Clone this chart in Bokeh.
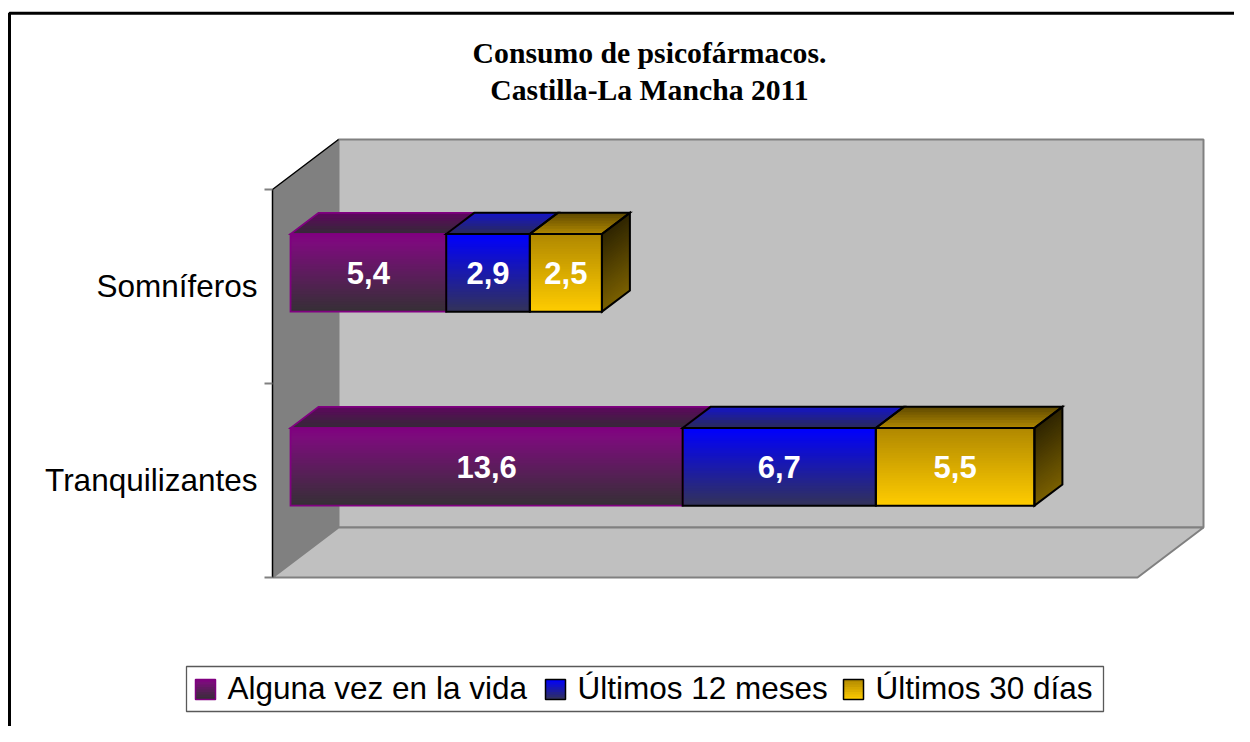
import numpy as np
from bokeh.plotting import figure
from bokeh.models import Range1d
from bokeh.core.properties import value
from bokeh.embed import file_html
from bokeh.resources import INLINE

# ---------------- data ----------------
title_lines = ["Consumo de psicofármacos.", "Castilla-La Mancha 2011"]
categories = ["Somníferos", "Tranquilizantes"]
series_names = ["Alguna vez en la vida", "Últimos 12 meses", "Últimos 30 días"]
alguna_vez = [5.4, 13.6]
ultimos_12_meses = [2.9, 6.7]
ultimos_30_dias = [2.5, 5.5]
axis_max = 30

# ---------------- styles ----------------
front_stops = [
    [(0, "#800080"), (0.12, "#7c0c7c"), (1, "#353035")],
    [(0, "#0000FF"), (1, "#333358")],
    [(0, "#B08800"), (1, "#FFCC00")],
]
top_stops = [
    [(0, "#5e065e"), (1, "#342a36")],
    [(0, "#1414c8"), (1, "#2a2a58")],
    [(0, "#5e4800"), (1, "#b08800")],
]
side_stops = [
    [(0, "#2a1030"), (1, "#5a2060")],
    [(0, "#0a0a40"), (1, "#202070")],
    [(0, "#2e2400"), (1, "#7a6000")],
]
edge_colors = ["#800080", "#000000", "#000000"]
edge_widths = [1.8, 2, 2]

W, H = 1234, 726
FX0, FX1 = 272, 1137      # front plane (px)
FY0, FY1 = 189, 577
SX = (FX1 - FX0) / axis_max
DXP, DYP = 66, -50        # depth offset of back wall (px)
DXV = DXP / SX
BAND = (FY1 - FY0) / len(categories)
HH = 0.4 * BAND / 2
D0, D1 = 0.273, 0.697     # bar depth fraction


def xv(px):
    return (px - FX0) / SX


def hex2rgb(h):
    h = h.lstrip("#")
    return np.array([int(h[i:i + 2], 16) for i in (0, 2, 4)], dtype=float)


def color_at(stops, t):
    for j in range(len(stops) - 1):
        p0, c0 = stops[j]
        p1, c1 = stops[j + 1]
        if t <= p1 or j == len(stops) - 2:
            f = 0.0 if p1 == p0 else min(max((t - p0) / (p1 - p0), 0.0), 1.0)
            c = hex2rgb(c0) * (1 - f) + hex2rgb(c1) * f
            return "#%02x%02x%02x" % tuple(int(round(v)) for v in c)
    return stops[-1][1]


def P(v, d, y):
    return (v + d * DXV, y + d * DYP)


fill_xs, fill_ys, fill_cols = [], [], []


def grad_quad(p0, p1, p2, p3, stops):
    # p0 top-left, p1 top-right, p2 bottom-right, p3 bottom-left; gradient p0->p3
    hpx = max(abs(p3[1] - p0[1]), abs(p2[1] - p1[1]))
    n = max(4, int(hpx / 2.5))
    for k in range(n):
        t0 = k / n
        t1 = min(1.0, (k + 2) / n)
        tm = (k + 0.5) / n
        L0 = (p0[0] + (p3[0] - p0[0]) * t0, p0[1] + (p3[1] - p0[1]) * t0)
        R0 = (p1[0] + (p2[0] - p1[0]) * t0, p1[1] + (p2[1] - p1[1]) * t0)
        L1 = (p0[0] + (p3[0] - p0[0]) * t1, p0[1] + (p3[1] - p0[1]) * t1)
        R1 = (p1[0] + (p2[0] - p1[0]) * t1, p1[1] + (p2[1] - p1[1]) * t1)
        fill_xs.append([L0[0], R0[0], R1[0], L1[0]])
        fill_ys.append([L0[1], R0[1], R1[1], L1[1]])
        fill_cols.append(color_at(stops, tm))


p = figure(width=W, height=H, output_backend="svg", toolbar_location=None,
           x_range=Range1d(xv(0), xv(W)), y_range=Range1d(H, 0),
           x_axis_location=None, y_axis_location=None, min_border=0,
           background_fill_color="white", border_fill_color="white")
p.grid.visible = False
p.outline_line_color = None

# ---------------- walls ----------------
back = [P(0, 1, FY0), P(axis_max, 1, FY0), P(axis_max, 1, FY1), P(0, 1, FY1)]
p.patch([q[0] for q in back], [q[1] for q in back], fill_color="#C0C0C0",
        line_color="#808080", line_width=2)
side = [P(0, 0, FY0), P(0, 1, FY0), P(0, 1, FY1), P(0, 0, FY1)]
p.patch([q[0] for q in side], [q[1] for q in side], fill_color="#808080",
        line_color=None)
floor = [P(0, 0, FY1), P(axis_max, 0, FY1), P(axis_max, 1, FY1), P(0, 1, FY1)]
p.patch([q[0] for q in floor], [q[1] for q in floor], fill_color="#C0C0C0",
        line_color="#808080", line_width=2)
# axis line (left edge + top diagonal)
p.line([P(0, 1, FY0)[0], P(0, 0, FY0)[0], P(0, 0, FY1)[0]],
       [P(0, 1, FY0)[1], P(0, 0, FY0)[1], P(0, 0, FY1)[1]],
       line_color="#000000", line_width=1.5)
# category ticks
for k in range(len(categories) + 1):
    yt = FY0 + k * BAND
    p.line([xv(FX0 - 8), 0], [yt, yt], line_color="#808080", line_width=2)

# ---------------- bars ----------------
series_vals = [alguna_vez, ultimos_12_meses, ultimos_30_dias]
out_xs, out_ys, out_cols, out_w = [], [], [], []
lab_x, lab_y, lab_t = [], [], []
for i, cat in enumerate(categories):
    yc = FY0 + (i + 0.5) * BAND
    top, bot = yc - HH, yc + HH
    start = 0.0
    for s, vals in enumerate(series_vals):
        a, b = start, start + vals[i]
        t_face = [P(a, D1, top), P(b, D1, top), P(b, D0, top), P(a, D0, top)]
        grad_quad(*t_face, top_stops[s])
        f_face = [P(a, D0, top), P(b, D0, top), P(b, D0, bot), P(a, D0, bot)]
        grad_quad(*f_face, front_stops[s])
        faces = [t_face, f_face]
        if s == len(series_vals) - 1:
            s_face = [P(b, D0, top), P(b, D1, top), P(b, D1, bot), P(b, D0, bot)]
            grad_quad(*s_face, side_stops[s])
            faces.append(s_face)
        for fc in faces:
            out_xs.append([q[0] for q in fc])
            out_ys.append([q[1] for q in fc])
            out_cols.append(edge_colors[s])
            out_w.append(edge_widths[s])
        cx, cy = P((a + b) / 2, D0, yc)
        lab_x.append(cx)
        lab_y.append(cy)
        lab_t.append(f"{vals[i]:.1f}".replace(".", ","))
        start = b

p.patches(fill_xs, fill_ys, fill_color=fill_cols, line_color=None)
p.patches(out_xs, out_ys, fill_alpha=0, line_color=out_cols, line_width=out_w,
          line_join="miter")
p.text(lab_x, lab_y, text=lab_t, text_color="white", text_font=value("Liberation Sans"),
       text_font_style="bold", text_font_size="31px", text_align="center",
       text_baseline="alphabetic")

# category labels
cat_y = [FY0 + (i + 0.5) * BAND - 0.5 for i in range(len(categories))]
p.text([xv(257)] * len(categories), cat_y, text=categories, text_color="black",
       text_font=value("Liberation Sans"), text_font_size="31.5px", text_align="right",
       text_baseline="alphabetic")

# title
p.text([xv(649)] * 2, [52.5, 89], text=title_lines, text_color="black",
       text_font=value("Liberation Serif"), text_font_style="bold",
       text_font_size="29.7px", text_align="center", text_baseline="alphabetic")

# ---------------- legend ----------------
p.patch([xv(186), xv(1103), xv(1103), xv(186)], [666, 666, 711, 711],
        fill_color="white", line_color="#595959", line_width=1.3)
sw_x = [195, 545, 843]
n_before = len(fill_xs)
for s, name in enumerate(series_names):
    x0, x1 = xv(sw_x[s]), xv(sw_x[s] + 20)
    grad_quad((x0, 679), (x1, 679), (x1, 699), (x0, 699), front_stops[s])
p.patches(fill_xs[n_before:], fill_ys[n_before:],
          fill_color=fill_cols[n_before:], line_color=None)
for s, name in enumerate(series_names):
    x0, x1 = xv(sw_x[s]), xv(sw_x[s] + 20)
    p.patch([x0, x1, x1, x0], [679, 679, 699, 699], fill_alpha=0,
            line_color=edge_colors[s], line_width=1.5)
p.text([xv(x + 32) for x in sw_x], [687.5] * 3, text=series_names, text_color="black",
       text_font=value("Liberation Sans"), text_font_size="31.5px", text_align="left",
       text_baseline="alphabetic")

# outer border
p.line([xv(9), xv(9), xv(1260)], [760, 12.7, 12.7], line_color="black", line_width=3)

open("out.html", "w").write(file_html(p, INLINE))
